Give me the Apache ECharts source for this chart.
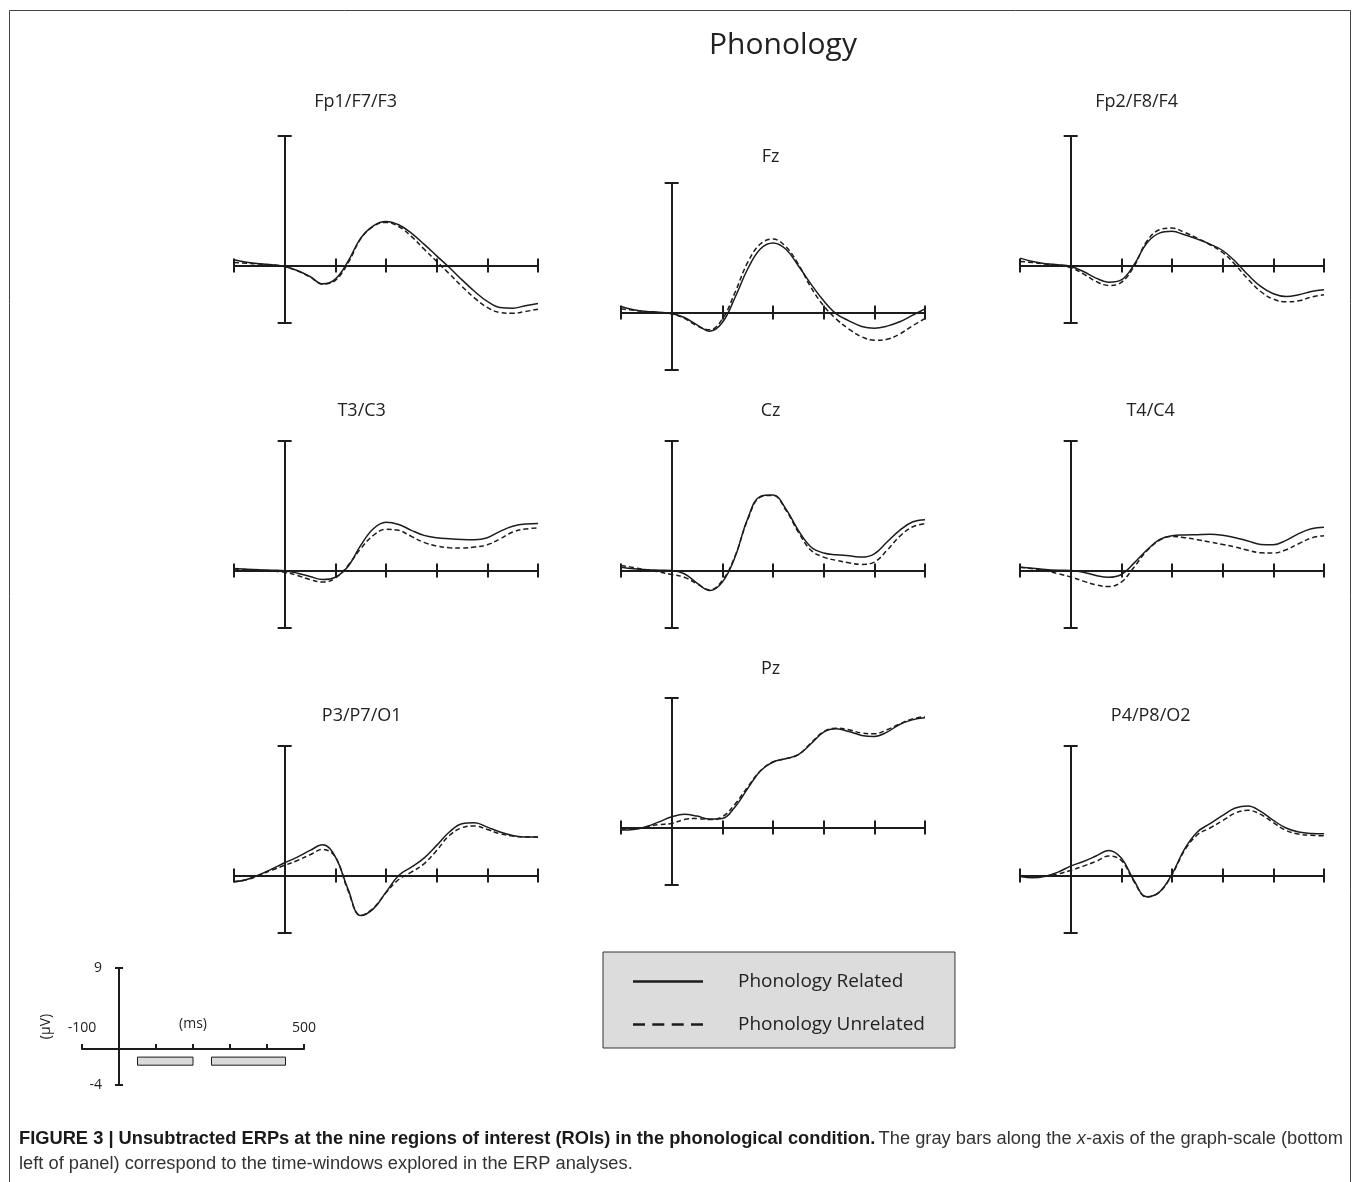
<!DOCTYPE html>
<html><head><meta charset="utf-8">
<script src="https://cdn.jsdelivr.net/npm/echarts@6/dist/echarts.min.js"></script>
<style>html,body{margin:0;padding:0;background:#fff}#chart{width:1355px;height:1182px}</style>
</head><body><div id="chart"></div>
<script>
// ---------- DATA ----------
const timesMs = [-100,-75,-50,-25,0,25,50,75,100,125,150,175,200,225,250,275,300,325,350,375,400,425,450,475,500];
const regionNames = ['Fp1/F7/F3','Fz','Fp2/F8/F4','T3/C3','Cz','T4/C4','P3/P7/O1','Pz','P4/P8/O2'];
const conditionNames = ['Phonology Related','Phonology Unrelated'];
const mainTitle = 'Phonology';

const fp1Related   = [0.40,0.23,0.12,0.05,-0.07,-0.35,-0.77,-1.28,-0.95,0.28,1.90,2.76,3.06,2.83,2.25,1.48,0.67,-0.14,-1.00,-1.81,-2.50,-2.92,-2.97,-2.80,-2.65];
const fp1Unrelated = [0.20,0.15,0.10,0.04,-0.08,-0.38,-0.80,-1.30,-1.04,0.16,1.85,2.72,2.99,2.71,2.02,1.14,0.28,-0.58,-1.46,-2.27,-2.92,-3.27,-3.32,-3.20,-3.04];
const fzRelated    = [0.42,0.19,0.07,0.02,-0.07,-0.35,-0.86,-1.30,-0.70,1.04,3.02,4.41,4.83,4.41,3.25,1.97,0.81,-0.10,-0.58,-0.97,-1.09,-0.95,-0.65,-0.20,0.25];
const fzUnrelated  = [0.25,0.15,0.05,-0.02,-0.10,-0.40,-0.93,-1.20,-0.46,1.39,3.48,4.76,5.10,4.59,3.36,1.74,0.46,-0.46,-1.16,-1.69,-1.93,-1.86,-1.50,-0.93,-0.42];
const fp2Related   = [0.51,0.28,0.12,0.05,-0.07,-0.42,-0.88,-1.16,-1.00,0.05,1.55,2.25,2.37,2.13,1.83,1.48,1.04,0.28,-0.65,-1.46,-1.97,-2.16,-2.04,-1.81,-1.69];
const fp2Unrelated = [0.28,0.20,0.10,0.02,-0.15,-0.58,-1.11,-1.39,-1.18,-0.07,1.67,2.48,2.60,2.30,1.90,1.44,0.90,0.05,-0.95,-1.81,-2.34,-2.53,-2.46,-2.20,-2.04];
const t3Related    = [0.14,0.09,0.05,0.02,-0.02,-0.19,-0.42,-0.63,-0.47,0.28,1.74,2.90,3.35,3.20,2.79,2.44,2.28,2.21,2.16,2.14,2.28,2.72,3.07,3.23,3.26];
const t3Unrelated  = [0.10,0.06,0.02,-0.03,-0.12,-0.35,-0.63,-0.81,-0.53,0.35,1.51,2.44,2.86,2.79,2.37,1.95,1.70,1.58,1.56,1.63,1.79,2.19,2.67,2.88,2.95];
const czRelated    = [0.23,0.12,0.05,0.02,0.00,-0.23,-0.88,-1.40,-0.81,0.93,3.60,5.15,5.25,4.30,2.79,1.63,1.21,1.09,1.02,0.93,1.16,1.98,2.79,3.37,3.53];
const czUnrelated  = [0.35,0.20,0.05,-0.10,-0.28,-0.47,-0.93,-1.35,-0.70,0.98,3.53,5.10,5.22,4.22,2.67,1.40,0.93,0.70,0.53,0.42,0.58,1.40,2.37,3.02,3.26];
const t4Related    = [0.23,0.16,0.07,0.02,0.00,-0.12,-0.35,-0.47,-0.28,0.51,1.40,2.14,2.42,2.47,2.49,2.51,2.44,2.28,2.05,1.81,1.79,2.09,2.56,2.90,3.00];
const t4Unrelated  = [0.23,0.12,-0.02,-0.22,-0.45,-0.74,-1.00,-1.12,-0.81,0.23,1.35,2.09,2.37,2.28,2.14,1.98,1.81,1.63,1.40,1.23,1.21,1.44,1.86,2.26,2.42];
const p3Related    = [-0.46,-0.28,0.05,0.46,0.88,1.28,1.74,2.13,1.30,-0.95,-2.78,-2.32,-1.16,0.00,0.58,1.21,2.09,3.02,3.60,3.67,3.36,3.02,2.78,2.67,2.67];
const p3Unrelated  = [-0.42,-0.30,0.02,0.38,0.70,1.04,1.44,1.81,1.28,-1.04,-2.78,-2.27,-1.20,-0.28,0.23,0.81,1.74,2.78,3.32,3.44,3.20,2.90,2.74,2.67,2.67];
const pzRelated    = [-0.18,-0.14,0.05,0.39,0.74,0.92,0.79,0.58,0.62,1.43,2.70,3.93,4.55,4.78,5.06,5.82,6.63,6.86,6.67,6.40,6.33,6.63,7.16,7.48,7.62];
const pzUnrelated  = [-0.10,-0.10,0.05,0.20,0.28,0.55,0.62,0.55,0.74,1.62,2.82,3.93,4.55,4.78,5.06,5.87,6.67,6.90,6.79,6.56,6.51,6.79,7.20,7.55,7.71];
const p4Related    = [-0.05,-0.16,-0.05,0.23,0.65,0.97,1.35,1.74,1.21,-0.35,-1.48,-1.16,0.10,1.85,3.02,3.60,4.18,4.69,4.83,4.46,3.83,3.30,3.02,2.92,2.90];
const p4Unrelated  = [-0.05,-0.12,-0.05,0.10,0.35,0.65,0.97,1.35,1.04,-0.42,-1.50,-1.16,0.05,1.75,2.83,3.30,3.81,4.34,4.53,4.25,3.67,3.13,2.88,2.79,2.76];

const relatedSeries   = [fp1Related, fzRelated, fp2Related, t3Related, czRelated, t4Related, p3Related, pzRelated, p4Related];
const unrelatedSeries = [fp1Unrelated, fzUnrelated, fp2Unrelated, t3Unrelated, czUnrelated, t4Unrelated, p3Unrelated, pzUnrelated, p4Unrelated];

const yRange = [-4, 9];            // µV
const xRange = [-100, 500];        // ms
const scaleXLabels = [-100, 500];
const scaleXName = '(ms)';
const scaleYName = '(µV)';
const analysisWindows = [[50, 200], [250, 450]];
const captionBold = 'FIGURE 3 | Unsubtracted ERPs at the nine regions of interest (ROIs) in the phonological condition.';
const captionRest1a = 'The gray bars along the ';
const captionRest1b = '-axis of the graph-scale (bottom';
const captionRest2 = 'left of panel) correspond to the time-windows explored in the ERP analyses.';

// ---------- LAYOUT ----------
const INK = '#1c1c1c';
const FONT = 'Open Sans';
const panelPos = [
  {left:234, top:136, tdx:71, tdy:-32},
  {left:621, top:183, tdx:99, tdy:-24},
  {left:1020, top:136, tdx:66, tdy:-32},
  {left:234, top:441, tdx:77, tdy:-28},
  {left:621, top:441, tdx:99, tdy:-28},
  {left:1020, top:441, tdx:80, tdy:-28},
  {left:234, top:746, tdx:77, tdy:-28},
  {left:621, top:698, tdx:99, tdy:-27},
  {left:1020, top:746, tdx:80, tdy:-28}
];
const PW = 304, PH = 187;

const grids = [], xAxes = [], yAxes = [], series = [];
const titles = [{
  text: mainTitle, left: 783, top: 30, textAlign: 'center', padding: 0,
  textStyle: {fontFamily: FONT, fontSize: 30, fontWeight: 'normal', color: '#222'}
}];

function axisPair(position, gi, idx, extra) {
  const line = {color: INK, width: 2};
  const base = {gridIndex: gi, type: 'value', position: position,
    splitLine: {show: false}, axisLabel: {show: false}};
  const a = Object.assign({}, base, extra, {
    axisLine: {show: true, onZero: true, onZeroAxisIndex: idx, lineStyle: line},
    axisTick: {show: true, inside: false, length: 7, lineStyle: line}
  });
  const b = Object.assign({}, base, extra, {
    axisLine: {show: false, onZero: true, onZeroAxisIndex: idx, lineStyle: line},
    axisTick: {show: true, inside: true, length: 7, lineStyle: line}
  });
  return [a, b];
}

panelPos.forEach((p, i) => {
  grids.push({left: p.left, top: p.top, width: PW, height: PH});
  const xi = xAxes.length, yi = yAxes.length;
  xAxes.push(...axisPair('bottom', i, yi, {min: xRange[0], max: xRange[1], interval: 100}));
  yAxes.push(...axisPair('left', i, xi, {min: yRange[0], max: yRange[1], interval: yRange[1] - yRange[0]}));
  const zeroX = p.left + PW * (0 - xRange[0]) / (xRange[1] - xRange[0]);
  titles.push({
    text: regionNames[i], left: zeroX + p.tdx, top: p.top + p.tdy - 11, textAlign: 'center', padding: 0,
    textStyle: {fontFamily: FONT, fontSize: 18, fontWeight: 'normal', color: '#222'}
  });
  [relatedSeries[i], unrelatedSeries[i]].forEach((vals, k) => {
    series.push({
      name: conditionNames[k], type: 'line', xAxisIndex: xi, yAxisIndex: yi,
      data: timesMs.map((t, j) => [t, vals[j]]),
      smooth: 0.4, symbol: 'none', showSymbol: false, silent: true,
      lineStyle: {color: INK, width: 1.5, type: k === 0 ? 'solid' : [5, 3]},
      itemStyle: {color: INK}, z: 3
    });
  });
});

// ---------- graph scale (bottom left) ----------
const SL = 82, ST = 968, SW = 222, SH = 117;
const sgi = grids.length;
grids.push({left: SL, top: ST, width: SW, height: SH});
const sxi = xAxes.length, syi = yAxes.length;
const sline = {color: INK, width: 2};
// axis lines placed at the zero of the other axis via offset
const sxOffset = -SH * (0 - yRange[0]) / (yRange[1] - yRange[0]);
const syOffset = -SW * (0 - xRange[0]) / (xRange[1] - xRange[0]);
const scaleText = {fontFamily: FONT, fontSize: 14, color: '#222'};
xAxes.push({
  gridIndex: sgi, type: 'value', position: 'bottom', offset: sxOffset,
  min: xRange[0], max: xRange[1], interval: 100,
  splitLine: {show: false},
  axisLine: {show: true, onZero: false, lineStyle: sline},
  axisTick: {show: true, inside: true, length: 5, lineStyle: sline},
  axisLabel: Object.assign({show: true, inside: true, margin: 14, showMinLabel: true, showMaxLabel: true,
    hideOverlap: false,
    formatter: v => scaleXLabels.indexOf(v) >= 0 ? String(v) : ''}, scaleText),
  name: scaleXName, nameLocation: 'middle', nameGap: -32, nameMoveOverlap: false,
  nameTextStyle: scaleText
});
yAxes.push({
  gridIndex: sgi, type: 'value', position: 'left', offset: syOffset,
  min: yRange[0], max: yRange[1], interval: yRange[1] - yRange[0],
  splitLine: {show: false},
  axisLine: {show: true, onZero: false, lineStyle: sline},
  axisTick: {show: true, inside: false, length: 4, lineStyle: sline},
  axisLabel: Object.assign({show: true, margin: 17}, scaleText),
  name: scaleYName, nameLocation: 'middle', nameGap: 66, nameRotate: 90, nameMoveOverlap: false,
  nameTextStyle: scaleText
});
yAxes.push({
  gridIndex: sgi, type: 'value', position: 'left', offset: syOffset,
  min: yRange[0], max: yRange[1], interval: yRange[1] - yRange[0],
  splitLine: {show: false}, axisLabel: {show: false},
  axisLine: {show: false, onZero: false, lineStyle: sline},
  axisTick: {show: true, inside: true, length: 4, lineStyle: sline}
});
series.push({
  type: 'custom', xAxisIndex: sxi, yAxisIndex: syi, silent: true,
  data: analysisWindows,
  renderItem: (params, api) => {
    const p0 = api.coord([api.value(0), -0.9]);
    const p1 = api.coord([api.value(1), -1.8]);
    return {type: 'rect', shape: {x: p0[0], y: p0[1], width: p1[0] - p0[0], height: p1[1] - p0[1]},
      style: {fill: '#d9d9d9', stroke: INK, lineWidth: 1}};
  }
});

const solidIcon = 'path://M0 0H70V2.4H0Z';
const dashIcon = 'path://M0 0H12V2.4H0Z M19.3 0H31.3V2.4H19.3Z M38.7 0H50.7V2.4H38.7Z M58 0H70V2.4H58Z';

const option = {
  animation: false,
  backgroundColor: '#fff',
  title: titles,
  grid: grids, xAxis: xAxes, yAxis: yAxes, series: series,
  legend: {
    orient: 'vertical', left: 603, top: 952,
    backgroundColor: '#dcdcdc', borderColor: '#333', borderWidth: 1,
    padding: [20, 30, 14, 30], itemGap: 24, itemWidth: 70, itemHeight: 2.4,
    selectedMode: false,
    textStyle: {fontFamily: FONT, fontSize: 19, color: '#222', padding: [0, 0, 0, 30]},
    data: [
      {name: conditionNames[0], icon: solidIcon},
      {name: conditionNames[1], icon: dashIcon}
    ]
  },
  graphic: [
    {type: 'rect', left: 7, top: 8, silent: true, z: -1,
      shape: {width: 1341, height: 1200}, style: {fill: 'none', stroke: '#444', lineWidth: 1}},
    {type: 'text', left: 19, top: 1126, silent: true,
      style: {
        text: '{b|' + captionBold + '} {n|' + captionRest1a + '}{i|x}{n|' + captionRest1b + '}\n{n|' + captionRest2 + '}',
        lineHeight: 25,
        rich: {
          b: {fontFamily: 'Liberation Sans', fontWeight: 'bold', fontSize: 18.3, fill: '#1a1a1a', lineHeight: 25},
          n: {fontFamily: 'Liberation Sans', fontSize: 18.3, fill: '#333', lineHeight: 25},
          i: {fontFamily: 'Liberation Sans', fontStyle: 'italic', fontSize: 18.3, fill: '#333', lineHeight: 25}
        }
      }}
  ]
};
const chart = echarts.init(document.getElementById('chart'), null, {renderer: 'canvas'});
chart.setOption(option);
</script></body></html>
